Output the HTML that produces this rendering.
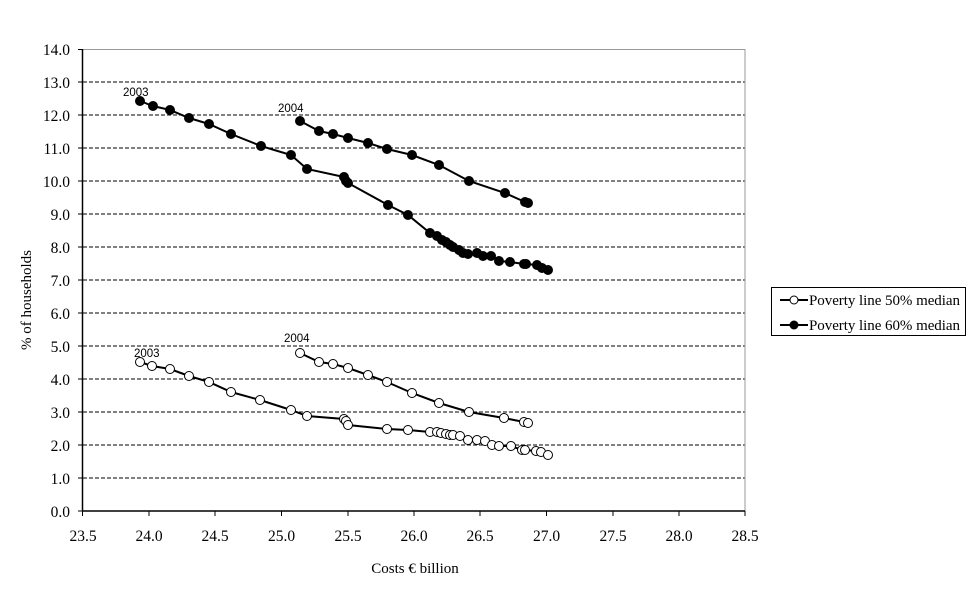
<!DOCTYPE html>
<html><head><meta charset="utf-8"><style>
body{margin:0;background:#fff;}
svg{display:block;}
text{font-family:"Liberation Serif",serif;fill:#000;}
</style></head><body>
<svg width="970" height="603" viewBox="0 0 970 603" xmlns="http://www.w3.org/2000/svg">
<g stroke="#000" stroke-width="1" stroke-dasharray="4,2">
<line x1="83" x2="745" y1="478" y2="478"/><line x1="83" x2="745" y1="445" y2="445"/>
<line x1="83" x2="745" y1="412" y2="412"/><line x1="83" x2="745" y1="379" y2="379"/>
<line x1="83" x2="745" y1="346" y2="346"/><line x1="83" x2="745" y1="313" y2="313"/>
<line x1="83" x2="745" y1="280" y2="280"/><line x1="83" x2="745" y1="247" y2="247"/>
<line x1="83" x2="745" y1="214" y2="214"/><line x1="83" x2="745" y1="181" y2="181"/>
<line x1="83" x2="745" y1="148" y2="148"/><line x1="83" x2="745" y1="115" y2="115"/>
<line x1="83" x2="745" y1="82" y2="82"/>
</g>
<line x1="83" x2="745" y1="49.5" y2="49.5" stroke="#999"/>
<line x1="745" x2="745" y1="49" y2="511" stroke="#999"/>
<g stroke="#000" stroke-width="1.5">
<line x1="82.5" x2="82.5" y1="49" y2="511"/>
<line x1="82" x2="745" y1="511" y2="511"/>
</g>
<g stroke="#000">
<line x1="78" x2="83" y1="49.5" y2="49.5"/><line x1="78" x2="83" y1="82" y2="82"/><line x1="78" x2="83" y1="115" y2="115"/><line x1="78" x2="83" y1="148" y2="148"/><line x1="78" x2="83" y1="181" y2="181"/><line x1="78" x2="83" y1="214" y2="214"/><line x1="78" x2="83" y1="247" y2="247"/><line x1="78" x2="83" y1="280" y2="280"/><line x1="78" x2="83" y1="313" y2="313"/><line x1="78" x2="83" y1="346" y2="346"/><line x1="78" x2="83" y1="379" y2="379"/><line x1="78" x2="83" y1="412" y2="412"/><line x1="78" x2="83" y1="445" y2="445"/><line x1="78" x2="83" y1="478" y2="478"/><line x1="78" x2="83" y1="511" y2="511"/>
<line x1="82.5" x2="82.5" y1="511" y2="516"/><line x1="149" x2="149" y1="511" y2="516"/><line x1="215" x2="215" y1="511" y2="516"/><line x1="281.5" x2="281.5" y1="511" y2="516"/><line x1="348" x2="348" y1="511" y2="516"/><line x1="414" x2="414" y1="511" y2="516"/><line x1="480" x2="480" y1="511" y2="516"/><line x1="546.5" x2="546.5" y1="511" y2="516"/><line x1="613" x2="613" y1="511" y2="516"/><line x1="679" x2="679" y1="511" y2="516"/><line x1="745" x2="745" y1="511" y2="516"/>
</g>
<g font-size="15.5" text-anchor="end">
<text x="70" y="55">14.0</text><text x="70" y="88">13.0</text><text x="70" y="121">12.0</text><text x="70" y="154">11.0</text><text x="70" y="187">10.0</text><text x="70" y="220">9.0</text><text x="70" y="253">8.0</text><text x="70" y="286">7.0</text><text x="70" y="319">6.0</text><text x="70" y="352">5.0</text><text x="70" y="385">4.0</text><text x="70" y="418">3.0</text><text x="70" y="451">2.0</text><text x="70" y="484">1.0</text><text x="70" y="517">0.0</text>
</g>
<g font-size="15.5" text-anchor="middle">
<text x="83" y="541">23.5</text><text x="149" y="541">24.0</text><text x="215" y="541">24.5</text><text x="281.5" y="541">25.0</text><text x="348" y="541">25.5</text><text x="414" y="541">26.0</text><text x="480" y="541">26.5</text><text x="546.5" y="541">27.0</text><text x="613" y="541">27.5</text><text x="679" y="541">28.0</text><text x="745" y="541">28.5</text>
</g>
<text x="415" y="573" font-size="15" text-anchor="middle">Costs  € billion</text>
<text transform="translate(31,300) rotate(-90)" font-size="15" text-anchor="middle">% of households</text>
<g font-size="11.5">
<text x="123" y="96" style="font-family:'Liberation Sans',sans-serif">2003</text>
<text x="278" y="112" style="font-family:'Liberation Sans',sans-serif">2004</text>
<text x="134" y="357" style="font-family:'Liberation Sans',sans-serif">2003</text>
<text x="284" y="342" style="font-family:'Liberation Sans',sans-serif">2004</text>
</g>
<g fill="none" stroke="#000" stroke-width="2">
<polyline points="140,101 153,106 170,110 189,118 209,124 231,134 261,146 291,155 307,169 344,177 346,181 348,183 388,205 408,215 430,233 437,236 442,240 446,242 450,245 453,247 459,250 463,253 468,254 477,253 483,256 491,256 499,261 510,262 524,264 526,264 537,265 542,268 548,270"/>
<polyline points="300,121 319,131 333,134 348,138 368,143 387,149 412,155 439,165 469,181 505,193 525,202 528,203"/>
<polyline points="140,362 152,366 170,369 189,376 209,382 231,392 260,400 291,410 307,416 344,419 346,421 348,425 387,429 408,430 430,432 437,432 441,433 446,434 450,435 453,435 460,436 468,440 477,440 485,441 492,445 499,446 511,446 522,450 525,450 536,451 541,452 548,455"/>
<polyline points="300,353 319,362 333,364 348,368 368,375 387,382 412,393 439,403 469,412 504,418 524,422 528,423"/>
</g>
<g fill="#000">
<circle cx="140" cy="101" r="5"/><circle cx="153" cy="106" r="5"/><circle cx="170" cy="110" r="5"/><circle cx="189" cy="118" r="5"/><circle cx="209" cy="124" r="5"/><circle cx="231" cy="134" r="5"/><circle cx="261" cy="146" r="5"/><circle cx="291" cy="155" r="5"/><circle cx="307" cy="169" r="5"/><circle cx="344" cy="177" r="5"/><circle cx="346" cy="181" r="5"/><circle cx="348" cy="183" r="5"/><circle cx="388" cy="205" r="5"/><circle cx="408" cy="215" r="5"/><circle cx="430" cy="233" r="5"/><circle cx="437" cy="236" r="5"/><circle cx="442" cy="240" r="5"/><circle cx="446" cy="242" r="5"/><circle cx="450" cy="245" r="5"/><circle cx="453" cy="247" r="5"/><circle cx="459" cy="250" r="5"/><circle cx="463" cy="253" r="5"/><circle cx="468" cy="254" r="5"/><circle cx="477" cy="253" r="5"/><circle cx="483" cy="256" r="5"/><circle cx="491" cy="256" r="5"/><circle cx="499" cy="261" r="5"/><circle cx="510" cy="262" r="5"/><circle cx="524" cy="264" r="5"/><circle cx="526" cy="264" r="5"/><circle cx="537" cy="265" r="5"/><circle cx="542" cy="268" r="5"/><circle cx="548" cy="270" r="5"/>
<circle cx="300" cy="121" r="5"/><circle cx="319" cy="131" r="5"/><circle cx="333" cy="134" r="5"/><circle cx="348" cy="138" r="5"/><circle cx="368" cy="143" r="5"/><circle cx="387" cy="149" r="5"/><circle cx="412" cy="155" r="5"/><circle cx="439" cy="165" r="5"/><circle cx="469" cy="181" r="5"/><circle cx="505" cy="193" r="5"/><circle cx="525" cy="202" r="5"/><circle cx="528" cy="203" r="5"/>
</g>
<g fill="#fff" stroke="#000" stroke-width="1">
<circle cx="140" cy="362" r="4.5"/><circle cx="152" cy="366" r="4.5"/><circle cx="170" cy="369" r="4.5"/><circle cx="189" cy="376" r="4.5"/><circle cx="209" cy="382" r="4.5"/><circle cx="231" cy="392" r="4.5"/><circle cx="260" cy="400" r="4.5"/><circle cx="291" cy="410" r="4.5"/><circle cx="307" cy="416" r="4.5"/><circle cx="344" cy="419" r="4.5"/><circle cx="346" cy="421" r="4.5"/><circle cx="348" cy="425" r="4.5"/><circle cx="387" cy="429" r="4.5"/><circle cx="408" cy="430" r="4.5"/><circle cx="430" cy="432" r="4.5"/><circle cx="437" cy="432" r="4.5"/><circle cx="441" cy="433" r="4.5"/><circle cx="446" cy="434" r="4.5"/><circle cx="450" cy="435" r="4.5"/><circle cx="453" cy="435" r="4.5"/><circle cx="460" cy="436" r="4.5"/><circle cx="468" cy="440" r="4.5"/><circle cx="477" cy="440" r="4.5"/><circle cx="485" cy="441" r="4.5"/><circle cx="492" cy="445" r="4.5"/><circle cx="499" cy="446" r="4.5"/><circle cx="511" cy="446" r="4.5"/><circle cx="522" cy="450" r="4.5"/><circle cx="525" cy="450" r="4.5"/><circle cx="536" cy="451" r="4.5"/><circle cx="541" cy="452" r="4.5"/><circle cx="548" cy="455" r="4.5"/>
<circle cx="300" cy="353" r="4.5"/><circle cx="319" cy="362" r="4.5"/><circle cx="333" cy="364" r="4.5"/><circle cx="348" cy="368" r="4.5"/><circle cx="368" cy="375" r="4.5"/><circle cx="387" cy="382" r="4.5"/><circle cx="412" cy="393" r="4.5"/><circle cx="439" cy="403" r="4.5"/><circle cx="469" cy="412" r="4.5"/><circle cx="504" cy="418" r="4.5"/><circle cx="524" cy="422" r="4.5"/><circle cx="528" cy="423" r="4.5"/>
</g>
<rect x="771.5" y="287.5" width="194" height="48" fill="#fff" stroke="#000"/>
<line x1="780" x2="808" y1="300" y2="300" stroke="#000" stroke-width="2"/>
<circle cx="794" cy="300" r="4" fill="#fff" stroke="#000"/>
<line x1="780" x2="808" y1="325" y2="325" stroke="#000" stroke-width="2"/>
<circle cx="794" cy="325" r="4.5" fill="#000"/>
<text x="809" y="305" font-size="15" textLength="151">Poverty line 50% median</text>
<text x="809" y="330" font-size="15" textLength="151">Poverty line 60% median</text>
</svg>
</body></html>
